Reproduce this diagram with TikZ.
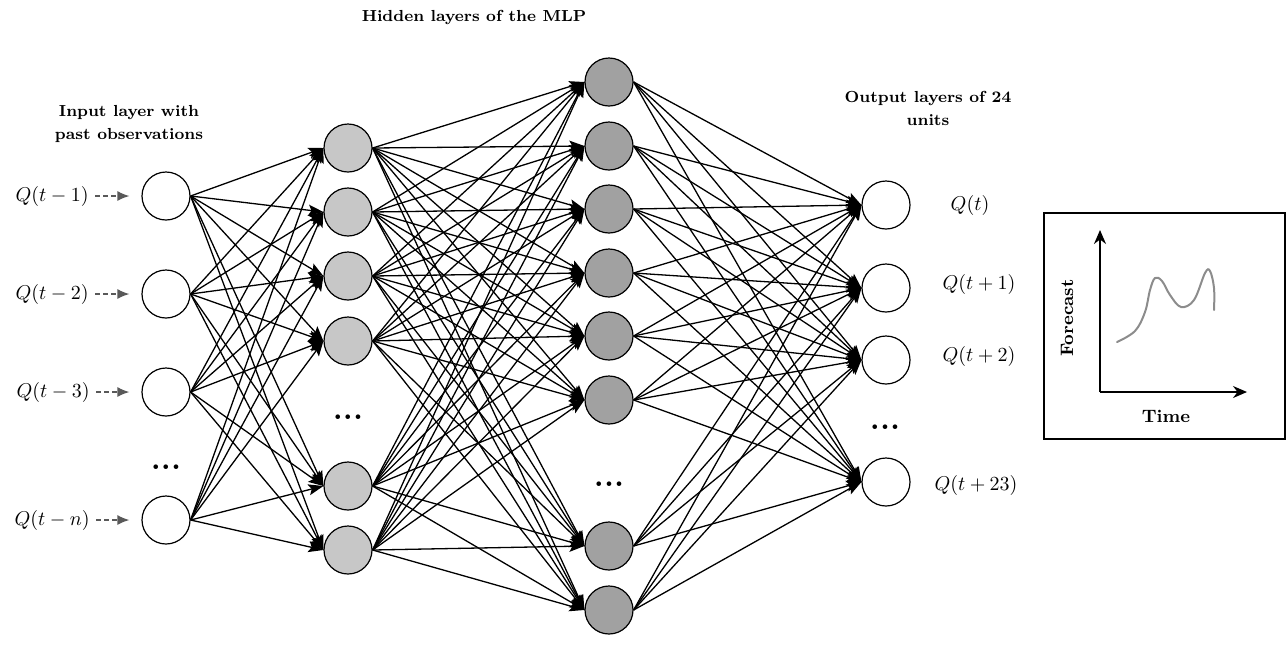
\documentclass[tikz,border=0pt]{standalone}
\usetikzlibrary{arrows.meta}
\definecolor{hidA}{gray}{0.78}
\definecolor{hidB}{gray}{0.63}
\definecolor{feedgray}{gray}{0.35}
\definecolor{curvegray}{gray}{0.55}
\begin{document}
\begin{tikzpicture}[x=0.5pt,y=-0.5pt,
 neuron/.style={circle, draw=black, line width=0.6pt, minimum size=24pt, inner sep=0pt},
 inneuron/.style={neuron, fill=white},
 hneuronA/.style={neuron, fill=hidA},
 hneuronB/.style={neuron, fill=hidB},
 outneuron/.style={neuron, fill=white},
 conn/.style={line width=0.65pt, -{Stealth[length=7.5pt,width=5.5pt,inset=1.5pt]}},
 feed/.style={draw=feedgray, line width=0.7pt, dash pattern=on 2.5pt off 1.5pt, -{Latex[length=6pt,width=5pt]}, shorten <=3pt, shorten >=6pt},
 title/.style={font=\fontsize{8}{11.5}\selectfont\bfseries, align=center},
 qlabel/.style={font=\fontsize{10}{12}\selectfont, inner sep=0pt},
 dotsl/.style={font=\fontsize{16}{16}\selectfont\bfseries, anchor=base, inner sep=0pt},
 axis/.style={line width=0.8pt, -{Stealth[length=7pt,width=6pt]}},
 boxlabel/.style={font=\fontsize{9}{10}\selectfont\bfseries}
]
\useasboundingbox (0,0) rectangle (1288,644);

% input layer
\foreach \y [count=\i] in {196,294,392,520}
  \node[inneuron] (i\i) at (166,\y) {};
% hidden layer 1
\foreach \y [count=\i] in {148,212,276,341,486,550}
  \node[hneuronA] (h\i) at (348,\y) {};
% hidden layer 2
\foreach \y [count=\i] in {82,146,209,273,336,400,546,610}
  \node[hneuronB] (g\i) at (609,\y) {};
% output layer
\foreach \y [count=\i] in {205,288,360,482}
  \node[outneuron] (o\i) at (886,\y) {};

% ellipses
\node[dotsl] (d1) at (166,469) {...};
\node[dotsl] (d2) at (348,419) {...};
\node[dotsl] (d3) at (609,486) {...};
\node[dotsl] (d4) at (885,429) {...};

% connections
\foreach \a in {1,...,4}
  \foreach \b in {1,...,6}
    \draw[conn] (i\a.east) -- (h\b.west);
\foreach \a in {1,...,6}
  \foreach \b in {1,...,8}
    \draw[conn] (h\a.east) -- (g\b.west);
\foreach \a in {1,...,8}
  \foreach \b in {1,...,4}
    \draw[conn] (g\a.east) -- (o\b.west);

% input labels
\node[qlabel, anchor=east] (l1) at (89,196) {$Q(t-1)$};
\node[qlabel, anchor=east] (l2) at (89,294) {$Q(t-2)$};
\node[qlabel, anchor=east] (l3) at (90,392) {$Q(t-3)$};
\node[qlabel, anchor=east] (l4) at (90,520) {$Q(t-n)$};
\foreach \i in {1,...,4}
  \draw[feed] (l\i.east) -- (i\i.west);

% output labels
\node[qlabel] (q1) at (970,205) {$Q(t)$};
\node[qlabel] (q2) at (979,284) {$Q(t+1)$};
\node[qlabel] (q3) at (979,356) {$Q(t+2)$};
\node[qlabel] (q4) at (976,485) {$Q(t+23)$};

% titles
\node[title] (tin) at (129,124) {Input layer with\\past observations};
\node[title] (thid) at (474,17) {Hidden layers of the MLP};
\node[title] (tout) at (928,108) {Output layers of 24\\units};

% forecast box
\node[draw, line width=0.7pt, minimum width=120.5pt, minimum height=113pt, inner sep=0pt] (fbox) at (1164.5,326) {};
\coordinate (org) at (1100,392);
\coordinate (ytop) at (1100,230);
\coordinate (xend) at (1247,392);
\draw[axis] (org) -- (ytop);
\draw[axis] (org) -- (xend);
\draw[curvegray, line width=1pt, line cap=round] plot[smooth, tension=0.6] coordinates
  {(1117,342) (1135,331) (1145,312) (1150,290) (1155,278) (1162,281) (1170,295) (1181,307) (1194,300) (1205,273) (1210,271) (1214,288) (1214,310)};
\node[boxlabel, rotate=90] (fy) at (1067,318) {Forecast};
\node[boxlabel] (fx) at (1166,416) {Time};
\end{tikzpicture}
\end{document}
